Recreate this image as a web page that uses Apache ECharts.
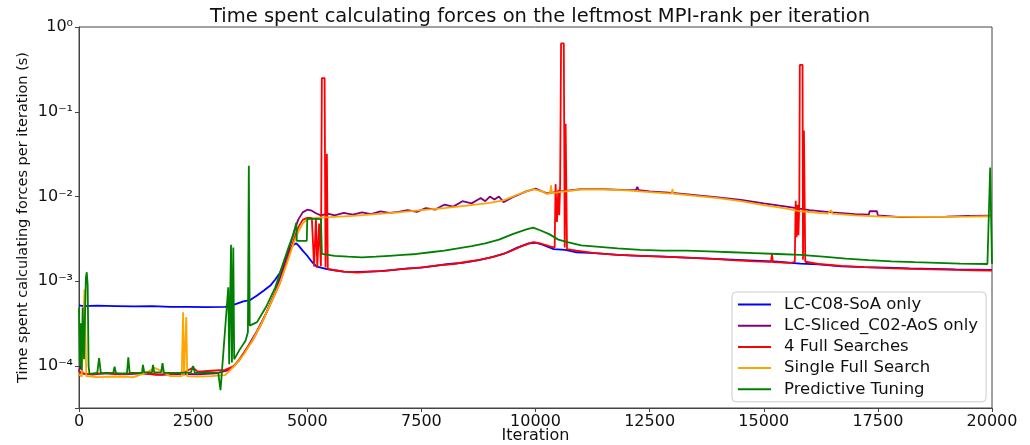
<!DOCTYPE html>
<html>
<head>
<meta charset="utf-8">
<script src="https://cdn.jsdelivr.net/npm/echarts@6/dist/echarts.min.js"></script>
<style>
    html, body {margin: 0; padding: 0; background: #fff;}
    #container {width: 1030px; height: 445px;}
</style>
</head>
<body>
<div id="container"></div>
<script>
// [iteration, seconds]
var c08Soa = [[0, 5.2e-4], [100, 5.1e-4], [400, 5.15e-4], [800, 5.1e-4], [1200, 5.05e-4], [1600, 5.1e-4], [2000, 5.0e-4],
    [2400, 5.0e-4], [2800, 4.95e-4], [3200, 5.0e-4], [3400, 5.3e-4], [3600, 5.8e-4], [3750, 6.0e-4], [3900, 6.8e-4],
    [4050, 7.8e-4], [4200, 9.0e-4], [4300, 1.05e-3], [4400, 1.25e-3], [4500, 1.7e-3], [4600, 2.3e-3], [4700, 2.7e-3],
    [4760, 2.8e-3], [4820, 2.6e-3], [4900, 2.3e-3], [5000, 2.0e-3], [5100, 1.7e-3], [5200, 1.5e-3], [5300, 1.45e-3],
    [5450, 1.38e-3], [5600, 1.35e-3], [5800, 1.3e-3], [6000, 1.28e-3], [6300, 1.3e-3], [6600, 1.32e-3], [6900, 1.36e-3],
    [7200, 1.42e-3], [7500, 1.45e-3], [7800, 1.52e-3], [8100, 1.6e-3], [8400, 1.65e-3], [8700, 1.75e-3], [9000, 1.9e-3],
    [9300, 2.1e-3], [9600, 2.5e-3], [9850, 2.8e-3], [10000, 2.85e-3], [10150, 2.7e-3], [10400, 2.4e-3], [10650, 2.35e-3],
    [10900, 2.2e-3], [11300, 2.15e-3], [11800, 2.05e-3], [12300, 2.0e-3], [12800, 1.95e-3], [13300, 1.9e-3],
    [13800, 1.85e-3], [14300, 1.8e-3], [14800, 1.75e-3], [15300, 1.7e-3], [15800, 1.62e-3], [16200, 1.58e-3],
    [16700, 1.5e-3], [17200, 1.47e-3], [17700, 1.45e-3], [18200, 1.42e-3], [18700, 1.4e-3], [19200, 1.38e-3],
    [19600, 1.37e-3], [20000, 1.36e-3]];

var slicedC02Aos = [[0, 8.6e-5], [40, 1.05e-4], [80, 8.2e-5], [300, 7.9e-5], [600, 8.3e-5], [1000, 8.0e-5], [1400, 8.2e-5],
    [1800, 7.9e-5], [2200, 8.1e-5], [2600, 8.0e-5], [3000, 8.2e-5], [3300, 9.0e-5], [3500, 1.15e-4], [3700, 1.7e-4],
    [3900, 2.6e-4], [4100, 4.2e-4], [4300, 7.5e-4], [4450, 1.3e-3], [4600, 2.4e-3], [4700, 3.7e-3], [4800, 5.3e-3],
    [4900, 6.5e-3], [5000, 7.0e-3], [5100, 6.8e-3], [5200, 6.3e-3], [5300, 6.0e-3], [5450, 6.3e-3], [5600, 6.0e-3],
    [5800, 6.4e-3], [6000, 6.1e-3], [6200, 6.5e-3], [6400, 6.2e-3], [6600, 6.7e-3], [6800, 6.4e-3], [7000, 6.6e-3],
    [7200, 6.9e-3], [7400, 6.6e-3], [7600, 7.3e-3], [7800, 7.0e-3], [8000, 8.0e-3], [8200, 7.6e-3], [8400, 8.8e-3],
    [8600, 8.3e-3], [8800, 9.6e-3], [8900, 8.8e-3], [9000, 1.0e-2], [9100, 9.2e-3], [9200, 1.0e-2], [9300, 8.6e-3],
    [9500, 9.8e-3], [9800, 1.15e-2], [10000, 1.24e-2], [10250, 1.09e-2], [10600, 1.16e-2], [11000, 1.22e-2],
    [11500, 1.22e-2], [12000, 1.19e-2], [12200, 1.19e-2], [12230, 1.3e-2], [12260, 1.19e-2], [12500, 1.15e-2],
    [13000, 1.1e-2], [13500, 1.04e-2], [14000, 9.8e-3], [14500, 9.1e-3], [15000, 8.3e-3], [15500, 7.6e-3],
    [16000, 6.9e-3], [16500, 6.5e-3], [17000, 6.2e-3], [17300, 6.1e-3], [17320, 6.7e-3], [17480, 6.7e-3],
    [17500, 6.0e-3], [18000, 5.7e-3], [18500, 5.75e-3], [19000, 5.8e-3], [19500, 5.9e-3], [20000, 5.95e-3]];

var fourFull = [[0, 8.8e-5], [50, 8.2e-5], [200, 8.0e-5], [500, 8.2e-5], [900, 8.0e-5], [1300, 8.3e-5], [1700, 7.9e-5],
    [2000, 8.1e-5], [2300, 8.4e-5], [2500, 9.6e-5], [2600, 8.6e-5], [2900, 8.8e-5], [3200, 9.0e-5], [3400, 1.0e-4],
    [3600, 1.4e-4], [3800, 2.0e-4], [4000, 3.2e-4], [4200, 5.5e-4], [4400, 9.5e-4], [4550, 1.7e-3], [4700, 3.0e-3],
    [4800, 4.3e-3], [4900, 5.3e-3], [5000, 5.6e-3], [5100, 5.6e-3], [5150, 1.5e-3], [5190, 5.5e-3], [5220, 1.45e-3],
    [5260, 4.8e-3], [5300, 1.5e-3], [5320, 0.25], [5380, 0.25], [5400, 1.45e-3], [5430, 3.2e-2], [5450, 1.4e-3],
    [5600, 1.35e-3], [5800, 1.3e-3], [6100, 1.27e-3], [6400, 1.3e-3], [6700, 1.33e-3], [7000, 1.38e-3], [7300, 1.42e-3],
    [7600, 1.48e-3], [7900, 1.55e-3], [8200, 1.6e-3], [8500, 1.7e-3], [8800, 1.8e-3], [9100, 1.95e-3], [9400, 2.2e-3],
    [9700, 2.6e-3], [9950, 2.9e-3], [10100, 2.8e-3], [10300, 2.6e-3], [10420, 2.5e-3], [10440, 1.4e-2], [10470, 5e-3],
    [10500, 1.2e-2], [10520, 6e-3], [10540, 1.4e-2], [10560, 0.64], [10620, 0.64], [10640, 2.5e-3], [10660, 7.2e-2],
    [10690, 2.4e-3], [10900, 2.3e-3], [11300, 2.15e-3], [11800, 2.05e-3], [12300, 2.0e-3], [12800, 1.95e-3],
    [13300, 1.9e-3], [13800, 1.85e-3], [14300, 1.78e-3], [14800, 1.72e-3], [15160, 1.7e-3], [15180, 2.1e-3],
    [15200, 1.68e-3], [15600, 1.65e-3], [15680, 1.7e-3], [15700, 8.9e-3], [15720, 3.3e-3], [15740, 8e-3],
    [15760, 3.5e-3], [15780, 9e-3], [15790, 0.357], [15850, 0.357], [15860, 1.8e-3], [15880, 0.06], [15910, 1.7e-3],
    [16200, 1.6e-3], [16700, 1.52e-3], [17200, 1.47e-3], [17700, 1.43e-3], [18200, 1.4e-3], [18700, 1.38e-3],
    [19200, 1.36e-3], [19600, 1.35e-3], [20000, 1.34e-3]];

var singleFull = [[0, 8.0e-5], [60, 7.5e-5], [120, 8.0e-4], [160, 7.6e-5], [400, 7.4e-5], [800, 7.5e-5], [1200, 7.4e-5],
    [1500, 8.5e-5], [1650, 9.5e-5], [1800, 8.8e-5], [2000, 7.6e-5], [2250, 7.6e-5], [2280, 4.3e-4], [2300, 7.6e-5],
    [2350, 3.8e-4], [2370, 7.6e-5], [2600, 7.5e-5], [2900, 7.6e-5], [3200, 7.8e-5], [3400, 1.0e-4], [3600, 1.35e-4],
    [3800, 2.0e-4], [4000, 3.2e-4], [4200, 5.5e-4], [4400, 9.5e-4], [4550, 1.6e-3], [4700, 2.8e-3], [4800, 3.8e-3],
    [4900, 4.8e-3], [5000, 5.4e-3], [5200, 5.6e-3], [5500, 5.7e-3], [6000, 5.9e-3], [6500, 6.2e-3], [7000, 6.5e-3],
    [7500, 6.9e-3], [8000, 7.3e-3], [8500, 7.8e-3], [9000, 8.4e-3], [9300, 9.0e-3], [9600, 1.05e-2], [9950, 1.22e-2],
    [10150, 1.15e-2], [10250, 1.07e-2], [10320, 1.1e-2], [10340, 1.35e-2], [10360, 1.1e-2], [10600, 1.14e-2],
    [11000, 1.21e-2], [11500, 1.21e-2], [12000, 1.18e-2], [12500, 1.13e-2], [12980, 1.08e-2], [13000, 1.22e-2],
    [13020, 1.08e-2], [13500, 1.02e-2], [14000, 9.6e-3], [14500, 8.8e-3], [15000, 7.9e-3], [15500, 7.2e-3],
    [15800, 6.7e-3], [16400, 6.3e-3], [16480, 6.9e-3], [16500, 6.3e-3], [17000, 6.0e-3], [17600, 5.8e-3],
    [18500, 5.75e-3], [19500, 5.8e-3], [20000, 5.85e-3]];

var predictive = [[0, 4.9e-4], [20, 1.0e-4], [40, 3.2e-4], [60, 9e-5], [80, 4.9e-4], [110, 1.2e-4], [150, 1.1e-3],
    [170, 1.28e-3], [190, 9.0e-4], [210, 1.0e-4], [230, 8.1e-5], [400, 8.3e-5], [440, 1.24e-4], [480, 8.2e-5],
    [750, 8.3e-5], [780, 9.8e-5], [810, 8.2e-5], [1050, 8.2e-5], [1080, 1.27e-4], [1110, 8.3e-5], [1380, 8.3e-5],
    [1400, 1.03e-4], [1430, 8.4e-5], [1600, 8.4e-5], [1620, 1.03e-4], [1650, 8.4e-5], [1800, 8.5e-5], [1830, 1.08e-4],
    [1860, 8.3e-5], [2200, 8.3e-5], [2450, 8.4e-5], [2500, 1.0e-4], [2540, 8.3e-5], [2800, 8.4e-5], [3050, 8.3e-5],
    [3100, 5.2e-5], [3270, 8.5e-4], [3290, 1.05e-4], [3330, 2.7e-3], [3350, 1.1e-4], [3380, 2.5e-3], [3400, 1.2e-4],
    [3500, 1.5e-4], [3650, 2.0e-4], [3700, 2.5e-4], [3720, 2.3e-2], [3740, 3.0e-4], [3900, 3.3e-4], [4100, 5.0e-4],
    [4300, 8.5e-4], [4450, 1.5e-3], [4600, 2.6e-3], [4700, 3.6e-3], [4760, 4.9e-3], [4770, 3.0e-3], [4990, 3.0e-3],
    [5000, 5.5e-3], [5300, 5.4e-3], [5320, 2.1e-3], [5600, 2.0e-3], [5900, 1.95e-3], [6200, 1.92e-3], [6500, 1.95e-3],
    [6800, 2.0e-3], [7100, 2.05e-3], [7400, 2.1e-3], [7700, 2.2e-3], [8000, 2.3e-3], [8300, 2.45e-3], [8600, 2.6e-3],
    [8900, 2.8e-3], [9200, 3.1e-3], [9500, 3.6e-3], [9800, 4.1e-3], [9950, 4.3e-3], [10100, 4.0e-3], [10300, 3.6e-3],
    [10500, 3.1e-3], [10700, 2.9e-3], [11000, 2.65e-3], [11400, 2.55e-3], [11800, 2.45e-3], [12300, 2.35e-3],
    [12800, 2.3e-3], [13300, 2.3e-3], [13800, 2.25e-3], [14300, 2.2e-3], [14800, 2.15e-3], [15300, 2.1e-3],
    [15800, 2.05e-3], [16300, 1.95e-3], [16800, 1.85e-3], [17300, 1.78e-3], [17800, 1.72e-3], [18300, 1.68e-3],
    [18800, 1.65e-3], [19300, 1.62e-3], [19900, 1.6e-3], [19960, 2.2e-2], [20000, 1.6e-3]];

var seriesNames = ['LC-C08-SoA only', 'LC-Sliced_C02-AoS only', '4 Full Searches', 'Single Full Search', 'Predictive Tuning'];
var seriesColors = ['#0000ff', '#800080', '#ff0000', '#ffa500', '#008000'];
var seriesData = [c08Soa, slicedC02Aos, fourFull, singleFull, predictive];

var font = 'DejaVu Sans';
var supMap = {'-': '\u207b', '0': '\u2070', '1': '\u00b9', '2': '\u00b2', '3': '\u00b3', '4': '\u2074',
    '5': '\u2075', '6': '\u2076', '7': '\u2077', '8': '\u2078', '9': '\u2079'};

function powLabel(v) {
    var l = Math.log10(v);
    var e = Math.round(l);
    if (Math.abs(l - e) > 1e-6) return '';
    var s = String(e).split('').map(function (c) { return supMap[c]; }).join('');
    return '10' + s;
}

var dom = document.getElementById('container');
var myChart = echarts.init(dom, null, {renderer: 'canvas'});

var series = [];
for (var i = 0; i < seriesData.length; i++) {
    series.push({
        name: seriesNames[i],
        type: 'line',
        data: seriesData[i],
        symbol: 'none',
        color: seriesColors[i],
        lineStyle: {width: 1.8, color: seriesColors[i]},
        z: 2 + i
    });
}

var option = {
    animation: false,
    backgroundColor: '#fff',
    title: {
        text: 'Time spent calculating forces on the leftmost MPI-rank per iteration',
        left: 535,
        top: 2,
        textAlign: 'center',
        textStyle: {fontFamily: font, fontSize: 19.5, fontWeight: 'normal', color: '#111'}
    },
    legend: {
        orient: 'vertical',
        left: 732,
        top: 292,
        padding: [4, 8, 4, 6],
        icon: 'rect',
        itemWidth: 33,
        itemHeight: 2,
        itemGap: 4.2,
        backgroundColor: 'rgba(255,255,255,0.85)',
        borderColor: '#ccc',
        borderWidth: 1,
        borderRadius: 4,
        textStyle: {fontFamily: font, fontSize: 16.5, color: '#111', padding: [0, 0, 0, 8]},
        data: seriesNames
    },
    grid: {
        left: 79,
        right: 38,
        top: 27,
        bottom: 37,
        outerBoundsMode: 'none',
        show: true,
        borderColor: '#444',
        borderWidth: 1
    },
    xAxis: {
        type: 'value',
        min: 0,
        max: 20000,
        interval: 2500,
        name: 'Iteration',
        nameLocation: 'middle',
        nameGap: 20,
        nameMoveOverlap: false,
        nameTextStyle: {fontFamily: font, fontSize: 16, color: '#111'},
        axisLine: {show: true, lineStyle: {color: '#444'}},
        axisTick: {show: true, length: 4, lineStyle: {color: '#444'}},
        axisLabel: {fontFamily: font, fontSize: 16, color: '#111', margin: 6, formatter: function (v) { return String(v); }},
        splitLine: {show: false}
    },
    yAxis: {
        type: 'log',
        logBase: 10,
        min: 3.2e-5,
        max: 1,
        name: 'Time spent calculating forces per iteration (s)',
        nameLocation: 'middle',
        nameGap: 48,
        nameMoveOverlap: false,
        nameTextStyle: {fontFamily: font, fontSize: 14.5, color: '#111'},
        axisLine: {show: true, lineStyle: {color: '#444'}},
        axisTick: {show: true, length: 4, lineStyle: {color: '#444'}},
        axisLabel: {fontFamily: font, fontSize: 16, color: '#111', margin: 6, formatter: powLabel},
        splitLine: {show: false}
    },
    series: series
};

myChart.setOption(option, true);
</script>
</body>
</html>
